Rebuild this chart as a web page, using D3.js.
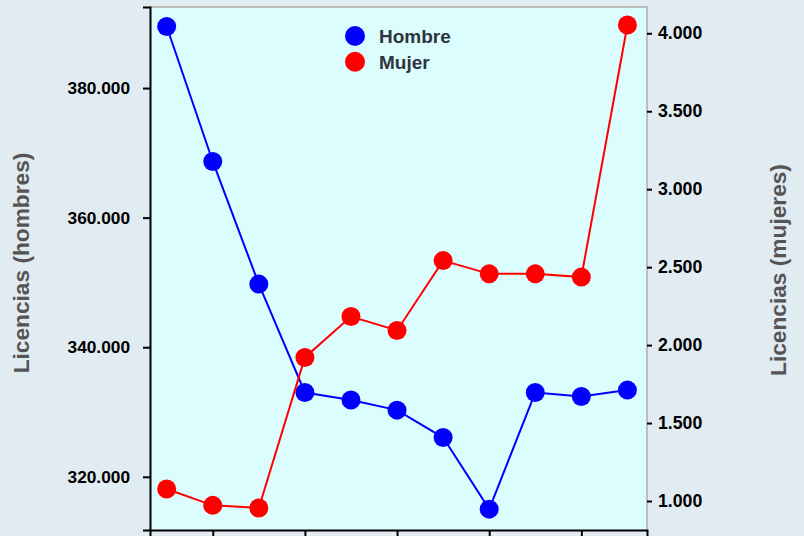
<!DOCTYPE html>
<html>
<head>
<meta charset="utf-8">
<script src="https://cdn.jsdelivr.net/npm/d3@7"></script>
<style>
  html, body { margin: 0; padding: 0; background: #e1ebf2; overflow: hidden; }
  svg { display: block; font-family: "Liberation Sans", Arial, sans-serif; }
</style>
</head>
<body>
<svg id="chart" width="804" height="536"></svg>
<script>
const years = [2013, 2014, 2015, 2016, 2017, 2018, 2019, 2020, 2021, 2022, 2023];
const hombres = [389500, 368670, 349740, 333010, 331840, 330290, 326060, 315010, 333010, 332390, 333380];
const mujeres = [1077, 972, 955, 1921, 2183, 2094, 2542, 2457, 2457, 2436, 4053];
const xTicks = [2014, 2016, 2018, 2020, 2022];
const leftTicks = [320000, 340000, 360000, 380000];
const rightTicks = [1000, 1500, 2000, 2500, 3000, 3500, 4000];
const seriesNames = ["Hombre", "Mujer"];

const svg = d3.select("#chart");
const margin = { top: 7, right: 157, bottom: 6, left: 150 };
const width = 804, height = 536;
const innerW = width - margin.left - margin.right;
const innerH = height - margin.top - margin.bottom;

const fmt = d3.formatLocale({ decimal: ",", thousands: ".", grouping: [3], currency: ["", "€"] }).format(",");

const x = d3.scaleLinear().domain([2012.638, 2023.425]).range([0, innerW]);
const yL = d3.scaleLinear().domain([311790, 392510]).range([innerH, 0]);
const yR = d3.scaleLinear().domain([814, 4168.6]).range([innerH, 0]);

const g = svg.append("g").attr("transform", `translate(${margin.left},${margin.top})`);

g.append("rect")
  .attr("width", innerW).attr("height", innerH)
  .attr("fill", "#dcfdfd");

// grey frame on top and right
g.append("path")
  .attr("d", `M0,0H${innerW}V${innerH}`)
  .attr("fill", "none").attr("stroke", "#bdbdbd").attr("stroke-width", 2);

const left = g.append("g")
  .call(d3.axisLeft(yL).tickValues(leftTicks).tickFormat(fmt).tickSize(7).tickPadding(13));
const right = g.append("g").attr("transform", `translate(${innerW},0)`)
  .call(d3.axisRight(yR).tickValues(rightTicks).tickFormat(fmt).tickSize(5).tickPadding(6));
right.select(".domain").remove();
// year labels sit below the visible area in the reference, so only the ticks show
const bottom = g.append("g").attr("transform", `translate(0,${innerH})`)
  .call(d3.axisBottom(x).tickValues(xTicks).tickFormat("").tickSize(8));

[left, right, bottom].forEach((a) => {
  a.selectAll(".domain, line").attr("stroke", "#000").attr("stroke-width", 2);
  a.selectAll("text").attr("font-weight", "bold").attr("fill", "#000")
    .attr("font-family", "'Liberation Sans', Arial, sans-serif");
});
left.selectAll("text").attr("font-size", 17.3);
right.selectAll("text").attr("font-size", 17.7);

const series = [
  { name: seriesNames[0], values: hombres, y: yL, color: "#0000ff" },
  { name: seriesNames[1], values: mujeres, y: yR, color: "#ff0000" },
];

series.forEach((s) => {
  const line = d3.line().x((d, i) => x(years[i])).y((d) => s.y(d));
  g.append("path")
    .datum(s.values)
    .attr("fill", "none").attr("stroke", s.color).attr("stroke-width", 2)
    .attr("d", line);
  g.append("g").selectAll("circle")
    .data(s.values)
    .join("circle")
    .attr("cx", (d, i) => x(years[i]))
    .attr("cy", (d) => s.y(d))
    .attr("r", 9.5)
    .attr("fill", s.color);
});

// legend
const legend = svg.append("g").attr("transform", "translate(355,36)");
series.forEach((s, i) => {
  const row = legend.append("g").attr("transform", `translate(0,${i * 25.7})`);
  row.append("circle").attr("r", 10).attr("fill", s.color);
  row.append("text").attr("x", 24).attr("y", 7)
    .attr("font-size", 19).attr("font-weight", "bold").attr("fill", "#2f3440")
    .text(s.name);
});

// axis titles
svg.append("text")
  .attr("transform", "translate(29,263) rotate(-90)")
  .attr("text-anchor", "middle")
  .attr("font-size", 22.7).attr("font-weight", "bold").attr("fill", "#555")
  .text("Licencias (hombres)");
svg.append("text")
  .attr("transform", "translate(786,270) rotate(-90)")
  .attr("text-anchor", "middle")
  .attr("font-size", 22.7).attr("font-weight", "bold").attr("fill", "#555")
  .text("Licencias (mujeres)");
</script>
</body>
</html>
